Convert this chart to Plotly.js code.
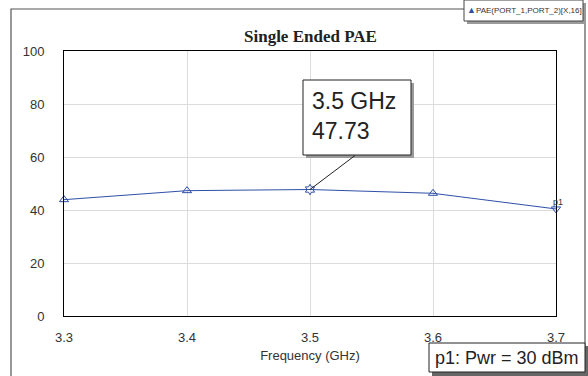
<!DOCTYPE html>
<html>
<head>
<meta charset="utf-8">
<script src="https://cdn.plot.ly/plotly-3.0.1.min.js"></script>
<style>html,body{margin:0;padding:0;background:#fff;}#chart{width:588px;height:376px;}</style>
</head>
<body>
<div id="chart"></div>
<script>
// ---- data ----
const freqGHz = [3.3, 3.4, 3.5, 3.6, 3.7];
const paeValues = [43.9, 47.3, 47.73, 46.3, 40.4];
const markerLabel = 'p1';
const markerFreq = 3.5;
const markerValue = 47.73;
const legendText = 'PAE(PORT_1,PORT_2)[X,16]';
const titleText = 'Single Ended PAE';
const xTitle = 'Frequency (GHz)';
const noteText = 'p1: Pwr = 30 dBm';

// ---- layout helpers (pixel -> paper) ----
const W = 588, H = 376, L = 64, R = 32, T = 51, B = 60;
const PW = W - L - R, PH = H - T - B;
const px = x => (x - L) / PW;
const py = y => (H - B - y) / PH;

const symbols = freqGHz.map((f, i) => f === markerFreq ? 'hexagram-open' : (i === freqGHz.length - 1 ? 'triangle-down-open' : 'triangle-up-open'));

const trace = {
  x: freqGHz, y: paeValues, type: 'scatter', mode: 'lines+markers',
  line: {color: '#2f4fa8', width: 1},
  marker: {symbol: symbols, size: 8, color: '#2f4fa8', line: {color: '#2f4fa8', width: 1}},
  cliponaxis: false, hoverinfo: 'skip', showlegend: false
};

function rect(x0, y0, x1, y1, opts) {
  return Object.assign({type: 'rect', xref: 'paper', yref: 'paper', x0: px(x0), x1: px(x1), y0: py(y1), y1: py(y0),
    line: {color: '#000', width: 1}, fillcolor: 'rgba(0,0,0,0)', layer: 'above'}, opts || {});
}

const shapes = [
  // outer frame
  rect(11, 9, 585, 400, {line: {color: '#555', width: 1.2}, layer: 'below'}),
  // legend box shadow + box
  rect(467, 3, 586, 24, {line: {width: 0}, fillcolor: '#9a9a9a'}),
  rect(464, 0, 583, 21, {line: {color: '#444', width: 1}, fillcolor: '#fff'}),
  // value box shadow + box
  rect(306, 83, 414, 158, {line: {width: 0}, fillcolor: '#9a9a9a'}),
  rect(303, 80, 411, 155, {line: {color: '#222', width: 1}, fillcolor: '#fff'}),
  // leader line
  {type: 'line', xref: 'x', yref: 'y', x0: markerFreq, y0: markerValue, x1: 3.5 + (355 - 310) / PW * 0.4, y1: markerValue + (189 - 155) / PH * 100,
    line: {color: '#222', width: 1}, layer: 'above'},
  // note box shadow + box
  rect(432, 346, 588, 376, {line: {width: 0}, fillcolor: '#666'}),
  rect(429, 343, 585, 372, {line: {color: '#222', width: 1}, fillcolor: '#fff'})
];

const annotations = [
  {xref: 'paper', yref: 'paper', x: px(310), y: py(36), text: '<b>' + titleText + '</b>', showarrow: false,
    font: {family: 'Liberation Serif, serif', size: 17, color: '#222'}, xanchor: 'center', yanchor: 'middle'},
  {xref: 'paper', yref: 'paper', text: markerFreq + ' GHz<br>' + markerValue.toFixed(2), showarrow: false,
    align: 'left', yanchor: 'top', x: px(310), xanchor: 'left', y: py(86),
    font: {family: 'Liberation Sans, Arial, sans-serif', size: 23, color: '#222'}},
  {xref: 'paper', yref: 'paper', x: px(507), y: py(358), text: noteText, showarrow: false,
    xanchor: 'center', yanchor: 'middle', font: {family: 'Liberation Sans, Arial, sans-serif', size: 18, color: '#222'}},
  {xref: 'paper', yref: 'paper', x: px(465), y: py(10), text: '<span style="color:#2f4fa8;font-size:9px">▲</span>' + legendText, showarrow: false,
    xanchor: 'left', yanchor: 'middle', font: {family: 'Liberation Sans, Arial, sans-serif', size: 8, color: '#333'}},
  {xref: 'x', yref: 'y', x: freqGHz[freqGHz.length - 1], y: paeValues[paeValues.length - 1], text: markerLabel, showarrow: false,
    xshift: 2, yshift: 7, font: {family: 'Liberation Sans, Arial, sans-serif', size: 9, color: '#333'}}
];

const layout = {
  width: W, height: H,
  margin: {l: L, r: R, t: T, b: B, pad: 0},
  paper_bgcolor: '#fff', plot_bgcolor: '#fff',
  font: {family: 'Liberation Sans, Arial, sans-serif', size: 13, color: '#333'},
  xaxis: {range: [3.3, 3.7], dtick: 0.1, tick0: 3.3, showgrid: true, gridcolor: '#dcdcdc', gridwidth: 1,
    showline: true, linecolor: '#000', linewidth: 1, mirror: true, zeroline: false, ticks: '',
    ticklabelstandoff: 9, tickfont: {size: 13, color: '#333'},
    title: {text: xTitle, font: {size: 13, color: '#333'}, standoff: 7}},
  yaxis: {range: [0, 100], dtick: 20, showgrid: true, gridcolor: '#dcdcdc', gridwidth: 1,
    showline: true, linecolor: '#000', linewidth: 1, mirror: true, zeroline: false, ticks: '',
    ticklabelstandoff: 16, tickfont: {size: 13, color: '#333'}},
  shapes: shapes,
  annotations: annotations,
  showlegend: false
};

Plotly.newPlot('chart', [trace], layout, {displayModeBar: false, staticPlot: true});
</script>
</body>
</html>
